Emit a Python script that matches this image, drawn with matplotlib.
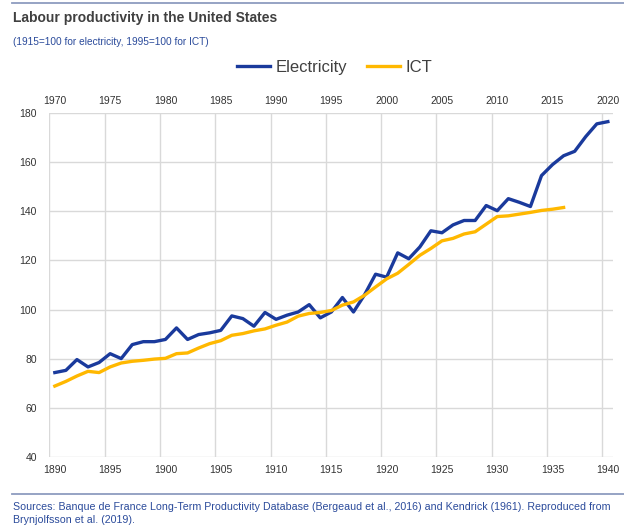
import numpy as np
import matplotlib
matplotlib.use('Agg')
import matplotlib.pyplot as plt
from matplotlib.lines import Line2D

plt.rcParams['font.family'] = ['Liberation Sans', 'DejaVu Sans']

# Electricity era (1915=100), bottom axis
elec_years = np.arange(1890, 1941)
elec = [74.3, 75.2, 79.6, 76.6, 78.4, 82.0, 80.0, 85.7, 86.9, 86.9,
        87.8, 92.5, 87.8, 89.8, 90.5, 91.5, 97.4, 96.3, 93.2, 98.8,
        96.0, 97.7, 99.0, 102.0, 96.6, 99.0, 104.9, 99.0, 106.0, 114.4,
        113.2, 123.1, 120.7, 125.5, 132.1, 131.3, 134.5, 136.3, 136.3, 142.4,
        140.3, 145.2, 143.7, 142.0, 154.6, 159.1, 162.7, 164.5, 170.5, 175.7,
        176.6]

# ICT era (1995=100), top axis
ict_years = np.arange(1970, 2017)
ict = [68.8, 70.7, 72.9, 74.8, 74.3, 76.6, 78.2, 78.9, 79.3, 79.8,
       80.1, 82.0, 82.3, 84.3, 86.1, 87.3, 89.5, 90.2, 91.3, 92.1,
       93.6, 94.9, 97.3, 98.4, 98.8, 99.6, 101.8, 103.1, 105.8, 109.2,
       112.5, 114.8, 118.4, 122.1, 124.9, 128.0, 129.0, 130.8, 131.7, 134.8,
       137.9, 138.2, 138.9, 139.6, 140.4, 140.9, 141.6]

bottom_ticks = np.arange(1890, 1941, 5)
top_ticks = np.arange(1970, 2021, 5)
y_ticks = np.arange(40, 181, 20)

blue = '#1a3a9c'
yellow = '#ffb800'
grid_c = '#d9d9d9'
text_c = '#333333'
note_c = '#2b4b9b'

fig = plt.figure(figsize=(6.24, 5.27), dpi=100)
ax = fig.add_axes([0.079, 0.1334, 0.904, 0.6516])
ax2 = ax.twiny()

# points sit in the middle of each yearly category
l1, = ax.plot(elec_years + 0.5, elec, color=blue, lw=2.4, label='Electricity')
l2, = ax2.plot(ict_years + 0.5, ict, color=yellow, lw=2.4, label='ICT')

ax.set_xlim(1890, 1941)
ax2.set_xlim(1970, 2021)
ax.set_ylim(40, 180)

ax.set_xticks(bottom_ticks + 0.5)
ax.set_xticklabels([str(t) for t in bottom_ticks])
ax.set_xticks(bottom_ticks, minor=True)
ax2.set_xticks(top_ticks + 0.5)
ax2.set_xticklabels([str(t) for t in top_ticks])
ax.set_yticks(y_ticks)

ax.grid(False)
ax.grid(True, which='minor', axis='x', color=grid_c, lw=1)
ax.grid(True, which='major', axis='y', color=grid_c, lw=1)
ax.set_axisbelow(True)

for a in (ax, ax2):
    for s in a.spines.values():
        s.set_visible(False)
ax.tick_params(axis='both', which='both', length=0, labelsize=7.5, colors=text_c)
ax.tick_params(axis='x', pad=6)
ax.tick_params(axis='y', pad=9)
ax2.tick_params(axis='x', length=0, labelsize=7.5, colors=text_c, pad=5)

fig.legend(handles=[l1, l2], loc='center', bbox_to_anchor=(0.536, 1 - 67 / 527),
           ncol=2, frameon=False, fontsize=12, handlelength=2.0,
           columnspacing=1.2, handletextpad=0.3, labelcolor='#404040')

fig.text(0.021, 1 - 18 / 527, 'Labour productivity in the United States',
         fontsize=10, fontweight='bold', color='#404040', va='center')
fig.text(0.021, 1 - 42 / 527, '(1915=100 for electricity, 1995=100 for ICT)',
         fontsize=7.3, color=note_c, va='center')
fig.text(0.021, 1 - 507 / 527,
         'Sources: Banque de France Long-Term Productivity Database (Bergeaud et al., 2016) '
         'and Kendrick (1961). Reproduced from',
         fontsize=7.7, color=note_c, va='center')
fig.text(0.021, 1 - 520 / 527, 'Brynjolfsson et al. (2019).',
         fontsize=7.7, color=note_c, va='center')

fig.add_artist(Line2D([0.02, 1.0], [1 - 3 / 527, 1 - 3 / 527], color='#8d9cbf', lw=1.3))
fig.add_artist(Line2D([0.02, 1.0], [1 - 494 / 527, 1 - 494 / 527], color='#8d9cbf', lw=1.3))

fig.savefig('out.png', dpi=100, facecolor='white')
